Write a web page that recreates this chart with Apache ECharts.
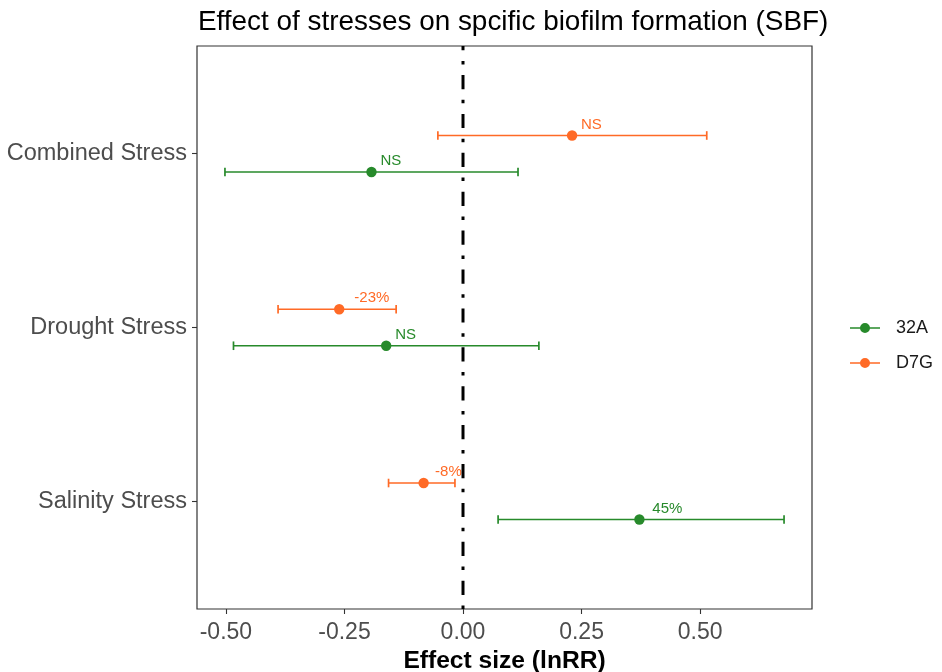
<!DOCTYPE html>
<html>
<head>
<meta charset="utf-8">
<script src="https://cdn.jsdelivr.net/npm/echarts@6/dist/echarts.min.js"></script>
<style>
  html, body { margin: 0; padding: 0; background: #ffffff; }
  #chart { width: 942px; height: 672px; }
</style>
</head>
<body>
<div id="chart"></div>
<script>
// Stress categories, listed from the bottom row upwards
const categories = ['Salinity Stress', 'Drought Stress', 'Combined Stress'];

// Effect sizes (lnRR) with confidence limits for strain 32A
const mean32A = [0.372, -0.162, -0.193];
const low32A = [0.074, -0.484, -0.502];
const high32A = [0.677, 0.160, 0.116];
const label32A = ['45%', 'NS', 'NS'];

// Effect sizes (lnRR) with confidence limits for strain D7G
const meanD7G = [-0.083, -0.261, 0.230];
const lowD7G = [-0.157, -0.390, -0.053];
const highD7G = [-0.017, -0.141, 0.514];
const labelD7G = ['-8%', '-23%', 'NS'];

// Axis tick values
const xTicks = [-0.5, -0.25, 0, 0.25, 0.5];
const yTicks = [1, 2, 3];
const zeroLine = 0;

const COLORS = { '32A': '#278a2b', 'D7G': '#ff6a26' };
const FONT = '"Liberation Sans", Arial, sans-serif';
const LABEL_SIZE = 15;
const DODGE = 0.105;

// x limits: data range padded by 5% on each side
const allLow = low32A.concat(lowD7G);
const allHigh = high32A.concat(highD7G);
const dataMin = Math.min.apply(null, allLow);
const dataMax = Math.max.apply(null, allHigh);
const pad = (dataMax - dataMin) * 0.05;
const xMin = dataMin - pad;
const xMax = dataMax + pad;
// discrete axis: a little over half a band beyond first and last category
const yMin = 1 - 0.62;
const yMax = categories.length + 0.62;

const measureCtx = document.createElement('canvas').getContext('2d');
measureCtx.font = LABEL_SIZE + 'px ' + FONT;
function textWidth(t) { return measureCtx.measureText(t).width; }

function buildRows(mean, low, high, dodge) {
  return mean.map(function (m, i) { return [low[i], m, high[i], i + 1 + dodge, i]; });
}

function makeRenderer(labels, color) {
  return function (params, api) {
    const y = api.value(3);
    const pLow = api.coord([api.value(0), y]);
    const pMid = api.coord([api.value(1), y]);
    const pHigh = api.coord([api.value(2), y]);
    const capH = 4.3;
    const lineStyle = { stroke: color, lineWidth: 1.7 };
    const text = labels[api.value(4)];
    return {
      type: 'group',
      children: [
        { type: 'line', shape: { x1: pLow[0], y1: pLow[1], x2: pHigh[0], y2: pHigh[1] }, style: lineStyle },
        { type: 'line', shape: { x1: pLow[0], y1: pLow[1] - capH, x2: pLow[0], y2: pLow[1] + capH }, style: lineStyle },
        { type: 'line', shape: { x1: pHigh[0], y1: pHigh[1] - capH, x2: pHigh[0], y2: pHigh[1] + capH }, style: lineStyle },
        { type: 'circle', shape: { cx: pMid[0], cy: pMid[1], r: 5.2 }, style: { fill: color } },
        {
          type: 'text',
          x: pMid[0] + 0.43 * textWidth(text),
          y: pMid[1] - 11,
          style: {
            text: text, fill: color, font: LABEL_SIZE + 'px ' + FONT,
            align: 'left', verticalAlign: 'middle'
          }
        }
      ]
    };
  };
}

const legendIcon = 'path://M0,4.2H30V5.8H0Z M20,5A5,5,0,1,1,10,5A5,5,0,1,1,20,5Z';

const chart = echarts.init(document.getElementById('chart'), null, { renderer: 'canvas' });
chart.setOption({
  backgroundColor: '#ffffff',
  animation: false,
  textStyle: { fontFamily: FONT },
  title: {
    text: 'Effect of stresses on spcific biofilm formation (SBF)',
    left: 198, top: 8, padding: 0,
    textStyle: { fontFamily: FONT, fontSize: 27.9, fontWeight: 'normal', color: '#000000' }
  },
  legend: {
    data: ['32A', 'D7G'],
    orient: 'vertical',
    left: 845, top: 313,
    itemWidth: 30, itemHeight: 10, itemGap: 15,
    icon: legendIcon,
    textStyle: { fontFamily: FONT, fontSize: 18, color: '#1a1a1a', lineHeight: 20, padding: [0, 0, 0, 11] }
  },
  grid: {
    left: 197, right: 130, top: 46, bottom: 63,
    containLabel: false, outerBoundsMode: 'none',
    show: true, borderColor: '#333333', borderWidth: 1.2, backgroundColor: '#ffffff'
  },
  xAxis: {
    type: 'value', min: xMin, max: xMax,
    splitLine: { show: false },
    axisLine: { show: false, onZero: false },
    axisTick: { show: true, length: 5, customValues: xTicks, lineStyle: { color: '#333333', width: 1.1 } },
    axisLabel: {
      customValues: xTicks, margin: 12,
      fontFamily: FONT, fontSize: 23, color: '#4d4d4d',
      formatter: function (v) { return v.toFixed(2); }
    },
    name: 'Effect size (lnRR)', nameLocation: 'middle', nameGap: 33,
    nameTextStyle: { fontFamily: FONT, fontSize: 24.6, fontWeight: 'bold', color: '#000000' }
  },
  yAxis: {
    type: 'value', min: yMin, max: yMax,
    splitLine: { show: false },
    axisLine: { show: false, onZero: false },
    axisTick: { show: true, length: 5, customValues: yTicks, lineStyle: { color: '#333333', width: 1.1 } },
    axisLabel: {
      customValues: yTicks, margin: 10,
      fontFamily: FONT, fontSize: 23.5, color: '#4d4d4d',
      formatter: function (v) { return categories[Math.round(v) - 1]; }
    }
  },
  series: [
    {
      name: '32A', type: 'custom',
      itemStyle: { color: COLORS['32A'] },
      renderItem: makeRenderer(label32A, COLORS['32A']),
      encode: { x: [0, 1, 2], y: 3 },
      data: buildRows(mean32A, low32A, high32A, -DODGE),
      z: 3
    },
    {
      name: 'D7G', type: 'custom',
      itemStyle: { color: COLORS['D7G'] },
      renderItem: makeRenderer(labelD7G, COLORS['D7G']),
      encode: { x: [0, 1, 2], y: 3 },
      data: buildRows(meanD7G, lowD7G, highD7G, DODGE),
      z: 3
    },
    {
      name: 'zero', type: 'line',
      data: [[zeroLine, yMin], [zeroLine, yMax]],
      showSymbol: false, silent: true,
      lineStyle: { color: '#000000', width: 3, type: [3.5, 10.6, 14.2, 10.6] },
      z: 4
    }
  ]
});
</script>
</body>
</html>
